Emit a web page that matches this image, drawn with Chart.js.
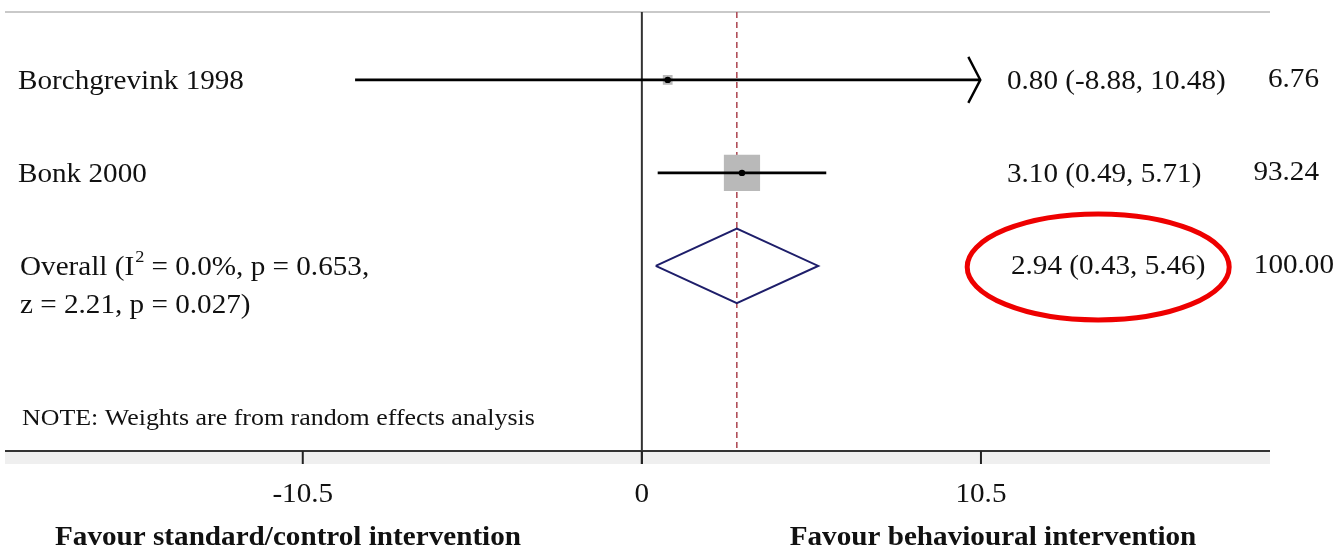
<!DOCTYPE html>
<html>
<head>
<meta charset="utf-8">
<title>Forest plot</title>
<script src="https://cdn.jsdelivr.net/npm/chart.js@4/dist/chart.umd.min.js"></script>
<style>
  html, body { margin: 0; padding: 0; background: #ffffff; }
  #forest { display: block; }
</style>
</head>
<body>
<canvas id="forest" width="1337" height="550"></canvas>
<script>
// Study-level results (mean difference with 95% CI) and random-effects weights
const studies = ['Borchgrevink 1998', 'Bonk 2000'];
const estimates = [0.80, 3.10];
const ciLower = [-8.88, 0.49];
const ciUpper = [10.48, 5.71];
const weights = [6.76, 93.24];
const ciArrowRight = [true, false];

// Pooled result
const overallEstimate = 2.94;
const overallLower = 0.43;
const overallUpper = 5.46;
const overallWeight = 100.00;
const heterogeneityI2 = 0.0;
const heterogeneityP = 0.653;
const zValue = 2.21;
const zP = 0.027;

// Axis
const tickValues = [-10.5, 0, 10.5];
const tickLabels = ['-10.5', '0', '10.5'];
const axisTitles = ['Favour standard/control intervention', 'Favour behavioural intervention'];
const noteText = 'NOTE: Weights are from random effects analysis';

// Row positions on the vertical scale (1 row = 1 unit, top to bottom)
const studyRows = [1, 2];
const overallRow = 3;
const noteRow = 4.63;

const SERIF = '"Liberation Serif", "Times New Roman", serif';
const STRETCH = 1.08; // slightly wide text face
const TEXT_DY = 2;    // optical centring of text on a row
const fmt = v => v.toFixed(2);
const estText = (e, l, h) => `${fmt(e)} (${fmt(l)}, ${fmt(h)})`;

// Box area proportional to weight
const boxSide = w => 3.75 * Math.sqrt(w);

const diamondHalf = 0.4;
const diamond = [
  { x: overallLower, y: overallRow },
  { x: overallEstimate, y: overallRow - diamondHalf },
  { x: overallUpper, y: overallRow },
  { x: overallEstimate, y: overallRow + diamondHalf },
  { x: overallLower, y: overallRow }
];

const datasets = [];
// Point estimate dots (drawn on top)
datasets.push({
  data: estimates.map((e, i) => ({ x: e, y: studyRows[i] })),
  pointStyle: 'circle',
  pointRadius: 3.2,
  backgroundColor: '#000000',
  borderWidth: 0,
  showLine: false
});
// Confidence-interval lines
studies.forEach((s, i) => {
  datasets.push({
    data: [{ x: ciLower[i], y: studyRows[i] }, { x: ciUpper[i], y: studyRows[i] }],
    showLine: true,
    borderColor: '#000000',
    borderWidth: 2.6,
    pointRadius: 0
  });
});
// Pooled diamond
datasets.push({
  data: diamond,
  showLine: true,
  borderColor: '#1e1e6a',
  borderWidth: 2,
  pointRadius: 0,
  tension: 0
});
// Weight boxes (drawn underneath)
datasets.push({
  data: estimates.map((e, i) => ({ x: e, y: studyRows[i] })),
  pointStyle: 'rect',
  pointRadius: weights.map(w => boxSide(w) / (2 * Math.SQRT1_2)),
  backgroundColor: '#b9b9b9',
  borderWidth: 0,
  showLine: false
});

// Draw text with a slight horizontal stretch; align is 'left' | 'center' | 'right'
function text(ctx, str, x, y, align) {
  const w = ctx.measureText(str).width * STRETCH;
  let left = x;
  if (align === 'center') left = x - w / 2;
  else if (align === 'right') left = x - w;
  ctx.save();
  ctx.textAlign = 'left';
  ctx.translate(left, y);
  ctx.scale(STRETCH, 1);
  ctx.fillText(str, 0, 0);
  ctx.restore();
  return w;
}

const frame = {
  id: 'forestFrame',
  beforeDatasetsDraw(chart) {
    const { ctx, chartArea: a, scales: { x } } = chart;
    ctx.save();
    // top rule
    ctx.strokeStyle = '#c9c9c9';
    ctx.lineWidth = 2;
    ctx.beginPath(); ctx.moveTo(a.left, a.top); ctx.lineTo(a.right, a.top); ctx.stroke();
    // axis band
    ctx.fillStyle = '#efefef';
    ctx.fillRect(a.left, a.bottom + 1, a.right - a.left, 12);
    // null line
    const x0 = x.getPixelForValue(0);
    ctx.strokeStyle = '#333333';
    ctx.lineWidth = 2;
    ctx.beginPath(); ctx.moveTo(x0, a.top); ctx.lineTo(x0, a.bottom + 13); ctx.stroke();
    // pooled estimate dashed line
    const xo = x.getPixelForValue(overallEstimate);
    ctx.strokeStyle = '#b0505a';
    ctx.lineWidth = 1.6;
    ctx.setLineDash([6, 4]);
    ctx.beginPath(); ctx.moveTo(xo, a.top); ctx.lineTo(xo, a.bottom); ctx.stroke();
    ctx.setLineDash([]);
    // axis line and ticks
    ctx.strokeStyle = '#333333';
    ctx.lineWidth = 2;
    ctx.beginPath(); ctx.moveTo(a.left, a.bottom); ctx.lineTo(a.right, a.bottom); ctx.stroke();
    ctx.strokeStyle = '#222222';
    tickValues.forEach(v => {
      const px = x.getPixelForValue(v);
      ctx.beginPath(); ctx.moveTo(px, a.bottom); ctx.lineTo(px, a.bottom + 13); ctx.stroke();
    });
    ctx.restore();
  },
  afterDatasetsDraw(chart) {
    const { ctx, scales: { x, y } } = chart;
    ctx.save();
    // arrowheads for truncated intervals
    ctx.strokeStyle = '#000000';
    ctx.lineWidth = 2.4;
    studies.forEach((s, i) => {
      if (!ciArrowRight[i]) return;
      const px = x.getPixelForValue(ciUpper[i]);
      const py = y.getPixelForValue(studyRows[i]);
      ctx.beginPath();
      ctx.moveTo(px - 12, py - 23); ctx.lineTo(px, py); ctx.lineTo(px - 12, py + 23);
      ctx.stroke();
    });

    ctx.fillStyle = '#111111';
    ctx.textBaseline = 'middle';
    ctx.font = `27px ${SERIF}`;
    // study labels, estimates, weights
    studies.forEach((s, i) => {
      const py = y.getPixelForValue(studyRows[i]) + TEXT_DY;
      text(ctx, s, 18, py, 'left');
      text(ctx, estText(estimates[i], ciLower[i], ciUpper[i]), 1007, py, 'left');
      text(ctx, fmt(weights[i]), 1319, py - 2, 'right');
    });

    // pooled row
    const oy = y.getPixelForValue(overallRow) + TEXT_DY;
    let cx = 20;
    cx += text(ctx, 'Overall (I', cx, oy, 'left');
    ctx.font = `17px ${SERIF}`;
    cx += text(ctx, '2', cx + 1, oy - 10, 'left') + 1;
    ctx.font = `27px ${SERIF}`;
    text(ctx, ` = ${heterogeneityI2.toFixed(1)}%, p = ${heterogeneityP.toFixed(3)},`, cx, oy, 'left');
    text(ctx, `z = ${zValue.toFixed(2)}, p = ${zP.toFixed(3)})`, 20, oy + 38, 'left');
    const oText = estText(overallEstimate, overallLower, overallUpper);
    const oWidth = text(ctx, oText, 1011, oy - 1, 'left');
    text(ctx, fmt(overallWeight), 1334, oy - 2, 'right');

    // highlight ring around pooled estimate
    ctx.strokeStyle = '#ee0000';
    ctx.lineWidth = 5;
    ctx.beginPath();
    ctx.ellipse(1011 + oWidth / 2 - 10, oy - 1, 131, 53, 0, 0, Math.PI * 2);
    ctx.stroke();

    // note
    ctx.font = `24px ${SERIF}`;
    text(ctx, noteText, 22, y.getPixelForValue(noteRow) + 1, 'left');

    // tick labels
    ctx.font = `27px ${SERIF}`;
    tickValues.forEach((v, i) => {
      text(ctx, tickLabels[i], x.getPixelForValue(v), 495, 'center');
    });

    // axis titles
    ctx.font = `bold 27px ${SERIF}`;
    text(ctx, axisTitles[0], 288, 538, 'center');
    text(ctx, axisTitles[1], 993, 538, 'center');
    ctx.restore();
  }
};

new Chart(document.getElementById('forest'), {
  type: 'scatter',
  data: { datasets },
  options: {
    responsive: false,
    animation: false,
    devicePixelRatio: 1,
    layout: { autoPadding: false, padding: { left: 5, right: 67, top: 12, bottom: 99 } },
    plugins: { legend: { display: false }, tooltip: { enabled: false } },
    scales: {
      x: { type: 'linear', min: -19.72, max: 19.45, display: false },
      y: { type: 'linear', min: 0.27, max: 4.99, reverse: true, display: false }
    },
    elements: { line: { fill: false } }
  },
  plugins: [frame]
});
</script>
</body>
</html>
